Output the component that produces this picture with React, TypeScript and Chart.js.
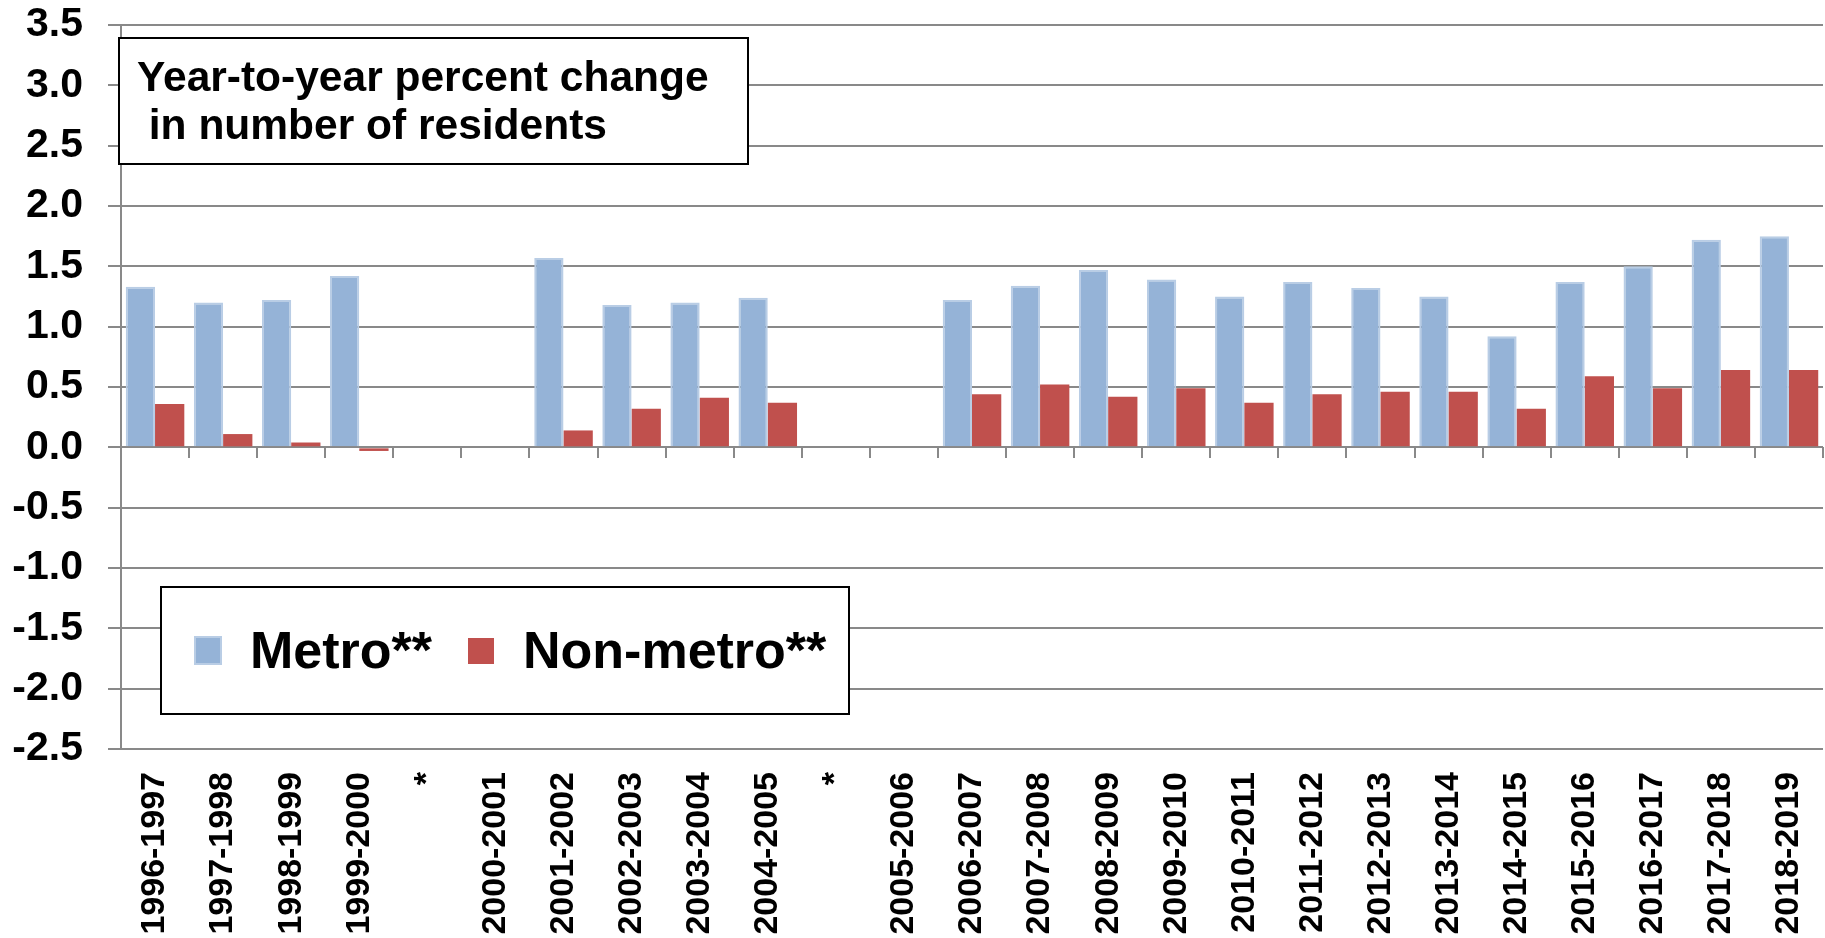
import React, { useEffect, useRef } from 'react';
import { Chart, registerables } from 'chart.js';

Chart.register(...registerables);

// ---------- data ----------
const categories = [
  '1996-1997', '1997-1998', '1998-1999', '1999-2000', '*',
  '2000-2001', '2001-2002', '2002-2003', '2003-2004', '2004-2005', '*',
  '2005-2006', '2006-2007', '2007-2008', '2008-2009', '2009-2010',
  '2010-2011', '2011-2012', '2012-2013', '2013-2014', '2014-2015',
  '2015-2016', '2016-2017', '2017-2018', '2018-2019',
];

const metroValues = [
  1.33, 1.20, 1.22, 1.42, null,
  null, 1.57, 1.18, 1.20, 1.24, null,
  null, 1.22, 1.34, 1.47, 1.39,
  1.25, 1.37, 1.32, 1.25, 0.92,
  1.37, 1.50, 1.72, 1.75,
];

const nonMetroValues = [
  0.36, 0.11, 0.04, -0.03, null,
  null, 0.14, 0.32, 0.41, 0.37, null,
  null, 0.44, 0.52, 0.42, 0.49,
  0.37, 0.44, 0.46, 0.46, 0.32,
  0.59, 0.49, 0.64, 0.64,
];

const seriesNames = ['Metro**', 'Non-metro**'];
const noteLines = ['Year-to-year percent change', ' in number of residents'];

const yMin = -2.5;
const yMax = 3.5;
const yStep = 0.5;

// ---------- styles ----------
const FONT = '"Liberation Sans", Arial, Helvetica, sans-serif';
const GRID = '#898989';
const METRO_FILL = '#95B3D7';
const METRO_EDGE = '#B9CDE5';
const NONMETRO_FILL = '#C0504D';

const overlayPlugin = {
  id: 'overlay',
  afterDraw(chart: any) {
    const ctx = chart.ctx as CanvasRenderingContext2D;
    const xs = chart.scales.x;
    const ys = chart.scales.y;
    const y0 = Math.round(ys.getPixelForValue(0));

    ctx.save();
    // tick marks hanging below the zero line at category boundaries
    ctx.strokeStyle = GRID;
    ctx.lineWidth = 2;
    ctx.beginPath();
    for (let i = 0; i <= categories.length; i++) {
      const x = Math.round(xs.getPixelForValue(i - 0.5));
      ctx.moveTo(x, y0);
      ctx.lineTo(x, y0 + 11);
    }
    ctx.stroke();

    // note box
    ctx.fillStyle = '#ffffff';
    ctx.fillRect(118, 37, 630, 127);
    ctx.strokeStyle = '#000000';
    ctx.lineWidth = 2;
    ctx.strokeRect(119, 38, 629, 126);
    ctx.fillStyle = '#000000';
    ctx.font = `bold 42.5px ${FONT}`;
    ctx.textBaseline = 'alphabetic';
    ctx.textAlign = 'left';
    ctx.fillText(noteLines[0], 137, 91);
    ctx.fillText(noteLines[1], 137, 139);

    // legend box
    ctx.fillStyle = '#ffffff';
    ctx.fillRect(160, 586, 690, 129);
    ctx.strokeStyle = '#000000';
    ctx.lineWidth = 2;
    ctx.strokeRect(161, 587, 688, 127);

    const ds = chart.data.datasets;
    // metro swatch
    ctx.fillStyle = ds[0].borderColor;
    ctx.fillRect(194, 636, 28, 29);
    ctx.fillStyle = ds[0].backgroundColor;
    ctx.fillRect(196, 638, 24, 25);
    // non-metro swatch
    ctx.fillStyle = ds[1].backgroundColor;
    ctx.fillRect(468, 638, 26, 26);

    ctx.fillStyle = '#000000';
    ctx.font = `bold 52px ${FONT}`;
    ctx.fillText(ds[0].label, 250, 668);
    ctx.fillText(ds[1].label, 523, 668);
    ctx.restore();
  },
};

export default function App() {
  const ref = useRef<HTMLCanvasElement>(null);

  useEffect(() => {
    document.body.style.margin = '0';
    const canvas = ref.current;
    if (!canvas) return;
    const chart = new Chart(canvas, {
      type: 'bar',
      data: {
        labels: categories,
        datasets: [
          {
            label: seriesNames[0],
            data: metroValues,
            backgroundColor: METRO_FILL,
            borderColor: METRO_EDGE,
            borderWidth: 2,
            borderSkipped: 'start',
            categoryPercentage: 0.86,
            barPercentage: 1,
          },
          {
            label: seriesNames[1],
            data: nonMetroValues,
            backgroundColor: NONMETRO_FILL,
            borderColor: NONMETRO_FILL,
            borderWidth: 0,
            categoryPercentage: 0.86,
            barPercentage: 1,
          },
        ],
      } as any,
      options: {
        responsive: false,
        animation: false,
        devicePixelRatio: 1,
        layout: { padding: { top: 25, right: 2, left: 0, bottom: 0 } },
        plugins: {
          legend: { display: false },
          tooltip: { enabled: false },
          title: { display: false },
        },
        scales: {
          x: {
            grid: { display: false, drawTicks: false },
            border: { display: false },
            ticks: {
              autoSkip: false,
              minRotation: 90,
              maxRotation: 90,
              padding: 23,
              color: '#000000',
              font: { family: FONT, size: 34, weight: 'bold' },
            },
            afterFit: (s: any) => {
              s.height = 189;
              s.paddingLeft = 0;
              s.paddingRight = 0;
            },
          },
          y: {
            min: yMin,
            max: yMax,
            ticks: {
              stepSize: yStep,
              padding: 25,
              color: '#000000',
              font: { family: FONT, size: 41, weight: 'bold', lineHeight: 1 },
              callback: (v: any) => Number(v).toFixed(1),
            },
            grid: { color: GRID, lineWidth: 2, tickLength: 13, drawTicks: true },
            border: { color: GRID, width: 2 },
            afterFit: (s: any) => {
              s.width = 121;
              s.paddingTop = 0;
              s.paddingBottom = 0;
            },
          },
        },
      } as any,
      plugins: [overlayPlugin],
    });
    return () => chart.destroy();
  }, []);

  return (
    <div style={{ position: 'absolute', left: 0, top: 0, width: 1825, height: 938, background: '#ffffff' }}>
      <canvas ref={ref} width={1825} height={938} style={{ display: 'block', width: 1825, height: 938 }} />
    </div>
  );
}
